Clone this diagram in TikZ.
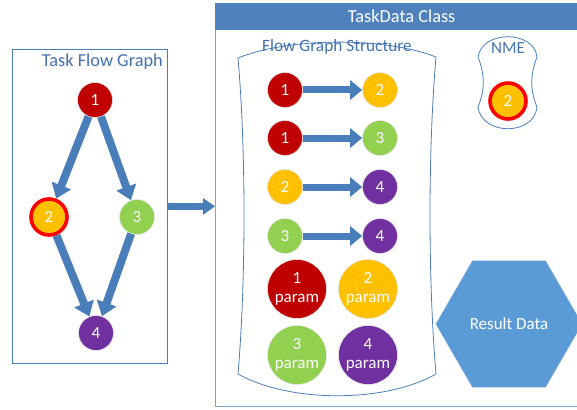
\documentclass[tikz,border=0pt]{standalone}
\usepackage{fontspec}
\setmainfont{Carlito}
\usetikzlibrary{arrows.meta,shapes.geometric}
\definecolor{arrowblue}{HTML}{4A7EBB}
\definecolor{titleblue}{HTML}{4472AF}
\definecolor{hdrblue}{HTML}{4F81BD}
\definecolor{boxline}{HTML}{7FA0C8}
\definecolor{cred}{HTML}{C00000}
\definecolor{camber}{HTML}{FFC000}
\definecolor{cgreen}{HTML}{92D050}
\definecolor{cpurple}{HTML}{7030A0}
\definecolor{ringred}{HTML}{FF0000}
\definecolor{hexblue}{HTML}{5B9BD5}
\begin{document}
\begin{tikzpicture}[x=1pt,y=-1pt,
  ball/.style={circle, fill=#1, draw=black!10, line width=0.6pt, minimum size=35pt, inner sep=0pt, text=white, font=\fontsize{17}{19.5}\selectfont},
  pball/.style={ball=#1, minimum size=59pt, align=center},
  nmeball/.style={circle, fill=camber, draw=ringred, line width=3.6pt, minimum size=36pt, inner sep=0pt, text=white, font=\fontsize{17}{19.5}\selectfont},
  bigarrow/.style={line width=8pt, draw=arrowblue, -{Triangle[length=14pt,width=20pt]}},
  rowarrow/.style={line width=7pt, draw=arrowblue, -{Triangle[length=12pt,width=19pt]}},
  titletext/.style={text=titleblue, inner sep=0pt, font=\fontsize{18.3}{20}\selectfont},
  outline/.style={draw=arrowblue, line width=0.8pt},
]
\path[use as bounding box, clip] (0,0) rectangle (577,409);

% left box
\node[outline, rectangle, minimum width=155pt, minimum height=314pt, anchor=north west, inner sep=0pt] (taskflow) at (12,49) {};
\node[titletext, anchor=east] (tfgtitle) at (163,62) {Task Flow Graph};

% right box
\node[draw=boxline, line width=1.4pt, rectangle, minimum width=373pt, minimum height=403pt, anchor=north west, inner sep=0pt] (taskdata) at (215,3) {};
\node[fill=hdrblue, draw=hdrblue, rectangle, minimum width=373pt, minimum height=26pt, anchor=north west, inner sep=0pt, text=white, font=\fontsize{18.3}{20}\selectfont] (hdr) at (215,3) {TaskData Class};

% left graph
\node[ball=cred] (g1) at (95,100) {1};
\node[nmeball] (g2) at (49,217) {2};
\node[ball=cgreen] (g3) at (137,217) {3};
\node[ball=cpurple] (g4) at (96,333) {4};
\draw[bigarrow] (g1) -- (g2);
\draw[bigarrow] (g1) -- (g3);
\draw[bigarrow] (g2) -- (g4);
\draw[bigarrow] (g3) -- (g4);

% arrow between boxes
\draw[line width=7pt, draw=arrowblue, -{Triangle[length=12pt,width=16pt]}] (taskflow.east) -- (taskflow.east -| taskdata.west);

% flow graph structure outline
\draw[outline] (238,58) .. controls (290,37) and (385,37) .. (436,57)
  .. controls (428,150) and (428,280) .. (436,374)
  .. controls (385,403) and (290,403) .. (238,374)
  .. controls (246,280) and (246,150) .. (238,58) -- cycle;
\node[titletext, font=\fontsize{17.3}{20}\selectfont] (fgstitle) at (337,47) {Flow Graph Structure};

% rows
\node[ball=cred] (a1) at (285,90) {1};
\node[ball=camber] (a2) at (380,90) {2};
\node[ball=cred] (b1) at (285,138) {1};
\node[ball=cgreen] (b2) at (380,138) {3};
\node[ball=camber] (c1) at (285,187) {2};
\node[ball=cpurple] (c2) at (380,187) {4};
\node[ball=cgreen] (d1) at (285,236) {3};
\node[ball=cpurple] (d2) at (380,236) {4};
\draw[rowarrow] (a1) -- (a2);
\draw[rowarrow] (b1) -- (b2);
\draw[rowarrow] (c1) -- (c2);
\draw[rowarrow] (d1) -- (d2);

% param circles
\node[pball=cred] (p1) at (297,289) {1\\param};
\node[pball=camber] (p2) at (368,289) {2\\param};
\node[pball=cgreen] (p3) at (297,355) {3\\param};
\node[pball=cpurple] (p4) at (368,355) {4\\param};

% NME
\draw[outline] (478,57) .. controls (482,30) and (534,30) .. (537,57)
  .. controls (530,75) and (530,90) .. (537,107)
  .. controls (534,136) and (482,136) .. (478,107)
  .. controls (485,90) and (485,75) .. (478,57) -- cycle;
\node[titletext, font=\fontsize{17}{20}\selectfont] (nmetitle) at (508,48) {NME};
\node[nmeball] (nme2) at (508,101) {2};

% result data
\node[regular polygon, regular polygon sides=6, minimum size=146pt, inner sep=0pt, fill=hexblue, draw=hexblue!80!white, line width=0.5pt, text=white, font=\fontsize{17}{19}\selectfont] (result) at (509,324) {Result Data};
\end{tikzpicture}
\end{document}
